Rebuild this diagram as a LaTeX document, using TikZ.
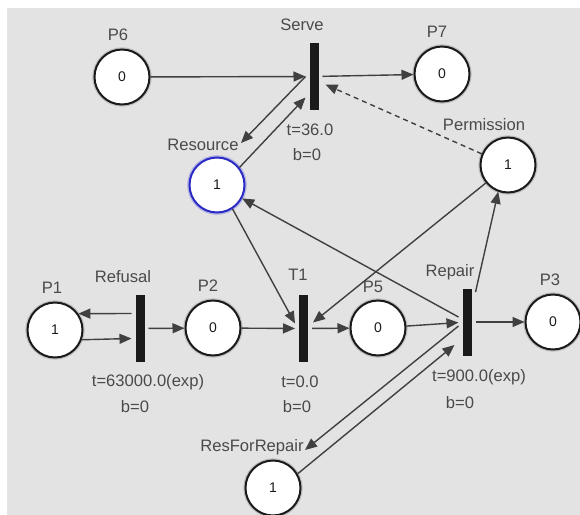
\documentclass[tikz,border=0pt]{standalone}
\usepackage{fontspec}
\setmainfont{Liberation Sans}
\usetikzlibrary{arrows.meta,positioning}
\definecolor{canvas}{HTML}{E3E3E3}
\definecolor{ink}{HTML}{1A1A1A}
\definecolor{wire}{HTML}{404040}
\definecolor{txt}{HTML}{4A4A4A}
\definecolor{resblue}{HTML}{2B2BC4}
\tikzset{
  halo/.style={preaction={draw=#1, line width=2.2pt}},
  place/.style={circle, minimum size=27.5pt, inner sep=0pt, fill=white, draw=ink, line width=1pt, halo=black!25, font=\fontsize{7}{8}\selectfont, text=ink},
  trans/.style={rectangle, fill=ink, inner sep=0pt, minimum width=4.5pt, minimum height=33.5pt, outer xsep=2pt},
  flow/.style={-{Triangle[length=6pt,width=5pt]}, line width=0.7pt, draw=wire},
  lbl/.style={font=\fontsize{8.3}{10}\selectfont, text=txt, inner sep=1pt},
}

\begin{document}
\begin{tikzpicture}[x=0.5pt,y=-0.5pt]
    \useasboundingbox (0,0) rectangle (580,515);
    \fill[canvas] (7,8) rectangle (580,515);

    % places
    \node[place] (p6) at (122,77) {0};
    \node[place] (p7) at (442,74) {0};
    \node[place, draw=resblue, halo=resblue!35] (res) at (217,185) {1};
    \node[place] (perm) at (508,165) {1};
    \node[place] (p1) at (55,330) {1};
    \node[place] (p2) at (213,328) {0};
    \node[place] (p5) at (378,328) {0};
    \node[place] (p3) at (553,322) {0};
    \node[place] (rfr) at (273,488) {1};

    % transitions
    \node[trans] (serve) at (314,76.5) {};
    \node[trans] (refusal) at (140,328.5) {};
    \node[trans] (t1) at (303.5,328.5) {};
    \node[trans] (repair) at (467,322) {};

    % names
    \node[lbl] (p6name) at (118,35) {P6};
    \node[lbl] (p7name) at (437,32) {P7};
    \node[lbl] (permname) at (484,125) {Permission};
    \node[lbl] (resname) at (203,145) {Resource};
    \node[lbl] (p1name) at (52,288) {P1};
    \node[lbl] (p2name) at (208,286) {P2};
    \node[lbl] (p5name) at (373,287) {P5};
    \node[lbl] (p3name) at (550,280) {P3};
    \node[lbl] (rfrname) at (252,447) {ResForRepair};
    \node[lbl] (servename) at (302,25) {Serve};
    \node[lbl] (refusalname) at (123,277) {Refusal};
    \node[lbl] (t1name) at (298,275) {T1};
    \node[lbl] (repairname) at (450,272) {Repair};

    % delays and buffers
    \node[lbl] (servet) at (310,130) {t=36.0};
    \node[lbl] (serveb) at (307,155) {b=0};
    \node[lbl] (refusalt) at (148,382) {t=63000.0(exp)};
    \node[lbl] (refusalb) at (135,407) {b=0};
    \node[lbl] (t1t) at (300,382) {t=0.0};
    \node[lbl] (t1b) at (297,407) {b=0};
    \node[lbl] (repairt) at (479,377) {t=900.0(exp)};
    \node[lbl] (repairb) at (460,403) {b=0};

    % arcs
    \draw[flow] (p6) -- (serve);
    \draw[flow] (serve) -- (p7);
    \draw[flow] (serve.west) -- ([shift={(24,-42)}]res.center);
    \draw[flow] (res.38) -- ([shift={(0,21)}]serve.west);
    \draw[flow, dash pattern=on 2.5pt off 2pt] (perm.157) -- ([shift={(3,8)}]serve.east);
    \draw[flow] ([shift={(0,-15)}]refusal.west) -- (p1.35);
    \draw[flow] (p1.-20) -- ([shift={(0,10)}]refusal.west);
    \draw[flow] (refusal) -- (p2);
    \draw[flow] (p2) -- (t1);
    \draw[flow] (res.-57) -- ([shift={(0,-5)}]t1.west);
    \draw[flow] (perm.219) -- ([shift={(1,-6)}]t1.east);
    \draw[flow] (t1) -- (p5);
    \draw[flow] (p5) -- (repair);
    \draw[flow] (repair) -- (p3);
    \draw[flow] ([shift={(0,-5)}]repair.west) -- (res.-28);
    \draw[flow] ([shift={(0,4)}]repair.north east) -- (perm.250);
    \draw[flow] ([shift={(0,4)}]repair.west) -- ([shift={(32,-38)}]rfr.center);
    \draw[flow] (rfr.30) -- ([shift={(-4,23)}]repair.west);
\end{tikzpicture}
\end{document}
